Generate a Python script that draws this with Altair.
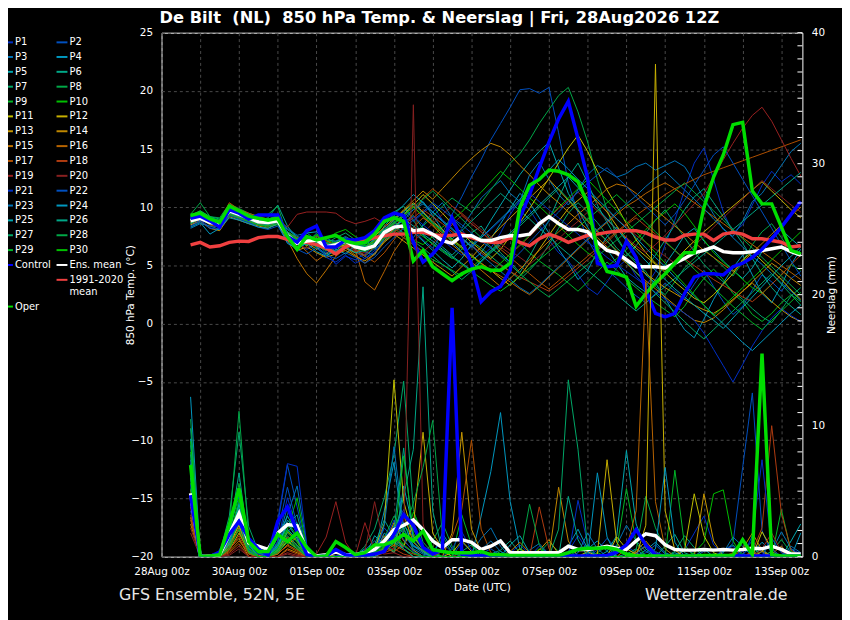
import altair as alt
import pandas as pd

TITLE = "De Bilt\u00a0\u00a0(NL)\u00a0\u00a0850 hPa Temp. & Neerslag | Fri, 28Aug2026 12Z"
FOOT_LEFT = "GFS Ensemble, 52N, 5E"
FOOT_RIGHT = "Wetterzentrale.de"
X_TITLE = "Date (UTC)"
Y_TITLE = "850 hPa Temp. (\u00b0C)"
Y2_TITLE = "Neerslag (mm)"
X_TICK_LABELS = ["28Aug 00z", "30Aug 00z", "01Sep 00z", "03Sep 00z", "05Sep 00z",
                 "07Sep 00z", "09Sep 00z", "11Sep 00z", "13Sep 00z"]

# forecast hours since 28Aug 00z (6-hourly)
HOURS = list(range(18, 397, 6))

# ---------------- thick lines: 850 hPa temperature ----------------
CONTROL_T = [9.05, 9.25, 8.84, 8.3, 9.8, 9.5, 9.0, 9.35, 9.35, 9.35, 7.5, 7.0, 8.0, 8.4, 6.6, 6.6, 7.2, 7.2,
             7.4, 8.0, 9.1, 9.5, 9.3, 7.0, 5.3, 6.0, 7.0, 9.1, 7.15, 5.15, 1.9, 2.75, 3.2, 4.6, 9.1, 11.1, 13.4, 15.6, 17.6, 19.1, 15.9,
             12.5, 5.2, 4.9, 5.0, 7.1, 5.7, 2.9, 0.9, 0.6, 0.9, 2.6, 4.0, 4.3, 4.3, 4.2, 4.9, 5.2, 5.7, 6.4, 7.3, 8.3, 9.4, 10.5]
ENSMEAN_T = [8.84, 9.05, 8.7, 8.6, 9.7, 9.4, 9.1, 8.75, 8.7, 8.84, 7.6, 6.9, 7.1, 7.2, 6.6, 6.8, 7.1, 6.6,
             6.43, 6.7, 7.85, 8.3, 8.4, 8.0, 8.1, 7.7, 7.15, 6.9, 7.56, 7.56, 7.15, 7.15, 7.4, 7.56, 7.56, 7.7, 8.6, 9.2, 8.6, 8.1, 8.1,
             7.9, 7.0, 6.3, 6.1, 5.5, 4.9, 4.9, 4.9, 4.8, 5.2, 5.6, 6.1, 6.3, 6.6, 6.2, 6.1, 6.1, 6.2, 6.3, 6.45, 6.6, 6.2, 5.9]
OPER_T = [9.3, 9.5, 9.0, 8.7, 10.1, 9.7, 9.25, 9.05, 8.9, 9.05, 7.5, 6.4, 7.5, 7.2, 7.4, 7.6, 7.1, 6.9,
          7.0, 7.7, 8.8, 9.1, 8.8, 5.4, 6.3, 4.9, 4.3, 3.7, 4.3, 4.7, 4.9, 4.6, 4.6, 5.2, 10.0, 11.9, 12.4, 13.2, 13.1, 12.8, 12.2,
          10.3, 6.3, 4.5, 4.3, 4.0, 1.5, 2.6, 3.5, 4.3, 5.2, 6.1, 6.1, 10.0, 12.6, 14.5, 17.1, 17.3, 11.4, 10.3, 10.3, 8.3, 6.3, 6.0]
CLIM_T = [6.78, 6.99, 6.6, 6.7, 6.99, 7.1, 7.07, 7.4, 7.5, 7.5, 7.25, 7.0, 7.0, 6.8, 6.5, 6.0, 6.6, 7.0,
          7.15, 7.4, 7.56, 7.7, 7.7, 7.85, 7.85, 7.65, 7.56, 7.6, 7.7, 7.4, 7.15, 7.0, 7.0, 7.4, 7.0, 6.7, 7.3, 7.7, 7.4, 7.0, 7.3,
          7.6, 7.7, 7.85, 7.95, 8.0, 8.0, 7.8, 7.45, 7.2, 7.2, 7.6, 7.7, 7.7, 7.15, 7.7, 7.85, 7.7, 7.3, 7.3, 7.15, 7.0, 6.6, 6.7]

# ---------------- thick lines: precipitation ----------------
CONTROL_R = [4.7, 0.0, 0.0, 0.35, 1.7, 2.7, 1.4, 0.6, 0.1, 2.7, 3.8, 1.9, 0.15, 0.0, 0.05, 0.55, 0.15, 0.05,
             0.1, 0.2, 0.4, 1.7, 3.2, 2.4, 0.7, 0.2, 0.5, 19.0, 0.2, 0.1, 0.05, 0.1, 0.1, 0.05, 0.05, 0.05, 0.05, 0.05, 0.05, 0.05, 0.05,
             0.05, 0.05, 0.1, 0.35, 0.9, 2.06, 0.9, 0.15, 0.05, 0.05, 0.05, 0.05, 0.05, 0.05, 0.05, 0.05, 0.05, 0.05, 0.05, 0.05, 0.05, 0.05, 0.05]
ENSMEAN_R = [4.84, 0.0, 0.05, 0.15, 1.7, 3.3, 1.05, 0.8, 0.55, 1.8, 2.45, 2.35, 0.4, 0.05, 0.15, 0.35, 0.15, 0.15,
             0.3, 0.55, 1.2, 2.06, 2.4, 2.8, 2.06, 1.2, 0.7, 1.3, 1.3, 1.1, 0.55, 0.8, 1.2, 0.3, 0.3, 0.3, 0.3, 0.3, 0.3, 0.8, 0.55,
             0.55, 0.65, 0.8, 0.65, 0.55, 1.2, 1.74, 1.6, 0.9, 0.55, 0.5, 0.5, 0.55, 0.5, 0.55, 0.5, 0.55, 0.65, 0.6, 0.8, 0.55, 0.2, 0.2]
OPER_R = [7.0, 0.0, 0.05, 0.15, 2.45, 5.2, 1.15, 0.4, 0.4, 1.7, 1.15, 1.8, 0.7, 0.0, 0.05, 1.15, 0.7, 0.15,
          0.3, 0.9, 0.9, 1.2, 1.7, 1.2, 1.95, 0.55, 0.4, 0.3, 0.3, 0.3, 0.4, 0.15, 0.15, 0.1, 0.1, 0.1, 0.1, 0.1, 0.1, 0.3, 0.55,
          0.65, 0.65, 0.7, 0.55, 0.2, 0.05, 0.05, 0.05, 0.05, 0.05, 0.05, 0.05, 0.1, 0.1, 0.1, 0.1, 1.3, 0.15, 15.5, 0.15, 0.05, 0.05, 0.05]

# ---------------- ensemble members: 850 hPa temperature ----------------
T_P1 = [8.5, 8.9, 8.3, 8.4, 9.6, 9.2, 9.0, 8.6, 8.5, 9.1, 7.8, 6.5, 6.9, 7.8, 6.2, 5.1,
        5.8, 5.5, 6.0, 6.8, 8.2, 9.1, 9.6, 8.8, 9.5, 10.2, 8.9, 7.6, 8.1, 6.9, 5.8, 6.5,
        7.8, 9.4, 10.6, 9.8, 8.5, 7.2, 6.1, 5.4, 4.2, 3.1, 2.5, 3.6, 4.8, 5.5, 4.1, 3.2,
        4.5, 6.8, 8.9, 11.5, 13.8, 15.1, 12.4, 9.6, 7.8, 8.5, 10.2, 11.9, 13.1, 12.2, 12.8, 12.0]
T_P2 = [9.1, 9.3, 8.9, 8.5, 9.9, 9.6, 9.3, 9.0, 8.9, 9.2, 7.3, 6.8, 6.4, 6.9, 6.1, 6.5,
        7.4, 6.2, 5.6, 6.1, 7.5, 8.4, 9.0, 8.1, 7.2, 6.5, 7.8, 9.4, 10.9, 12.6, 14.1, 15.8,
        17.2, 18.6, 20.1, 20.2, 19.8, 20.3, 16.4, 12.1, 9.5, 7.2, 5.8, 4.6, 3.9, 3.1, 2.4, 1.8,
        2.6, 3.5, 2.8, 2.1, 3.4, 4.6, 3.2, 1.9, 0.8, 1.5, 2.9, 4.2, 3.6, 2.8, 3.9, 4.5]
T_P3 = [8.2, 8.6, 8.4, 8.1, 9.4, 9.1, 8.7, 8.5, 8.6, 8.7, 7.9, 7.2, 7.5, 6.8, 7.4, 6.9,
        6.5, 6.8, 6.2, 5.9, 7.3, 8.8, 8.1, 7.4, 8.5, 9.6, 10.4, 9.1, 8.2, 9.5, 10.8, 11.6,
        12.3, 11.2, 10.5, 12.8, 13.9, 12.4, 11.1, 10.2, 11.5, 12.8, 13.6, 13.1, 12.6, 12.9, 13.5, 13.8,
        13.2, 13.6, 14.0, 13.5, 12.2, 10.8, 9.4, 8.1, 7.5, 8.8, 10.5, 11.2, 12.4, 13.6, 14.8, 15.5]
T_P4 = [9.0, 9.4, 9.1, 8.8, 9.8, 9.5, 9.2, 8.9, 8.8, 8.9, 8.1, 7.5, 7.2, 6.6, 6.0, 6.3,
        6.9, 6.4, 5.8, 6.5, 7.6, 8.3, 8.9, 9.8, 10.5, 9.3, 8.1, 7.0, 6.2, 5.4, 6.1, 7.3,
        8.6, 9.9, 11.2, 10.4, 9.1, 7.8, 6.4, 5.2, 3.8, 4.6, 6.2, 7.5, 8.3, 7.1, 5.6, 4.2,
        3.5, 2.2, 0.8, -0.5, -1.2, 0.4, 2.1, 3.5, 4.8, 5.9, 4.2, 2.6, 1.8, 3.3, 5.1, 6.4]
T_P5 = [8.7, 9.2, 8.8, 8.7, 9.5, 9.3, 9.0, 8.7, 8.4, 8.6, 7.4, 6.9, 7.8, 7.9, 7.2, 7.1,
        7.3, 7.0, 6.7, 6.9, 8.4, 9.3, 8.6, 7.9, 7.1, 6.3, 5.5, 4.8, 5.6, 6.8, 7.5, 8.9,
        10.2, 11.5, 12.8, 13.9, 14.8, 15.6, 13.4, 11.2, 9.8, 8.3, 7.1, 6.4, 5.2, 4.0, 3.3, 2.7,
        3.8, 5.1, 6.3, 7.6, 8.2, 7.1, 6.3, 5.4, 4.6, 3.9, 4.8, 6.2, 7.5, 8.1, 7.3, 6.6]
T_P6 = [8.9, 9.1, 8.6, 8.8, 9.9, 9.5, 9.3, 8.9, 9.1, 10.2, 8.4, 7.3, 6.8, 7.4, 6.8, 6.2,
        6.6, 6.9, 7.3, 6.4, 7.1, 7.8, 8.7, 9.3, 8.2, 7.4, 6.6, 5.9, 6.7, 7.8, 8.4, 7.2,
        6.1, 5.3, 4.4, 5.8, 7.3, 8.9, 10.8, 12.6, 13.8, 12.1, 10.2, 8.7, 7.3, 6.1, 5.4, 4.8,
        5.9, 7.2, 8.5, 9.8, 10.9, 11.6, 10.4, 9.2, 8.1, 6.9, 5.6, 4.3, 3.1, 2.2, 1.5, 0.8]
T_P7 = [9.2, 9.6, 9.0, 8.7, 10.1, 9.7, 9.4, 9.1, 8.9, 9.3, 7.2, 6.6, 6.9, 7.6, 6.9, 7.4,
        7.8, 7.2, 6.8, 7.4, 8.9, 9.6, 10.1, 8.9, 7.6, 6.8, 6.2, 5.6, 6.4, 7.1, 6.5, 5.8,
        5.1, 4.5, 3.8, 4.6, 5.5, 6.8, 8.2, 9.5, 10.4, 9.6, 8.7, 7.6, 6.5, 5.8, 6.7, 7.8,
        8.9, 9.8, 8.6, 7.4, 6.2, 5.1, 4.3, 3.6, 2.8, 2.1, 1.3, 0.6, 0.1, 1.2, 2.4, 3.1]
T_P8 = [9.4, 10.4, 9.2, 9.1, 10.3, 9.9, 9.5, 9.2, 9.4, 10.1, 7.5, 7.1, 7.4, 6.5, 5.9, 6.2,
        6.8, 6.6, 7.1, 7.6, 8.1, 8.7, 8.3, 7.8, 8.4, 9.2, 10.1, 10.8, 10.2, 9.6, 10.4, 11.5,
        12.6, 13.8, 14.6, 15.8, 17.2, 18.4, 19.6, 20.3, 18.2, 15.6, 12.4, 9.8, 7.5, 6.1, 5.2, 4.5,
        3.2, 2.5, 3.6, 4.8, 5.6, 6.4, 5.7, 4.9, 4.1, 5.3, 6.8, 7.9, 8.6, 7.4, 6.2, 5.8]
T_P9 = [8.6, 9.0, 8.5, 8.3, 9.3, 9.0, 8.8, 8.5, 8.3, 8.5, 7.7, 7.3, 7.6, 7.0, 6.4, 6.7,
        7.0, 6.6, 6.3, 6.9, 7.7, 8.0, 7.4, 6.8, 6.2, 5.5, 5.1, 4.6, 4.1, 4.8, 5.6, 6.3,
        7.1, 7.8, 6.9, 6.1, 5.4, 4.8, 4.2, 3.5, 2.8, 3.6, 4.5, 5.3, 4.6, 3.8, 3.1, 2.4,
        1.8, 1.2, 0.6, 1.5, 2.8, 3.9, 4.7, 3.8, 2.6, 1.9, 0.8, 0.2, 0.9, 1.8, 2.5, 1.9]
T_P10 = [9.3, 9.7, 9.2, 8.8, 9.9, 9.6, 9.2, 8.9, 8.8, 9.0, 7.9, 7.4, 7.1, 7.7, 7.3, 7.8,
         8.1, 7.5, 7.0, 6.7, 7.4, 8.1, 7.7, 7.2, 6.8, 7.5, 8.3, 8.9, 9.6, 10.5, 11.3, 12.2,
         13.1, 12.4, 11.6, 10.8, 10.1, 9.3, 8.4, 7.6, 6.8, 6.1, 5.5, 4.9, 5.6, 6.4, 7.2, 8.1,
         8.9, 9.6, 10.3, 9.5, 8.4, 7.2, 6.1, 5.3, 4.6, 3.8, 3.1, 2.6, 3.4, 4.2, 5.1, 4.6]
T_P11 = [8.8, 9.4, 8.9, 8.6, 10.2, 9.8, 9.4, 9.0, 8.9, 9.2, 7.6, 7.2, 6.7, 7.3, 6.8, 7.0,
         6.5, 6.1, 6.6, 7.2, 7.9, 8.6, 9.4, 10.2, 11.1, 10.3, 9.5, 8.6, 7.8, 7.0, 6.3, 5.6,
         6.4, 7.5, 8.7, 9.9, 11.2, 12.5, 13.8, 15.1, 16.2, 14.8, 13.1, 11.5, 10.1, 8.6, 7.2, 6.1,
         5.2, 4.4, 3.6, 2.9, 2.2, 1.8, 2.5, 3.4, 4.3, 5.5, 6.2, 5.4, 4.6, 3.8, 2.9, 2.1]
T_P12 = [9.0, 9.2, 8.7, 8.9, 9.6, 9.3, 9.0, 8.7, 8.6, 8.8, 7.5, 6.6, 7.0, 6.4, 6.9, 6.5,
         6.8, 7.1, 6.9, 7.5, 8.3, 9.0, 9.7, 10.4, 9.6, 8.8, 8.1, 7.3, 6.6, 5.9, 5.2, 4.6,
         3.9, 3.3, 4.1, 5.2, 6.4, 7.6, 8.8, 9.9, 10.6, 11.3, 10.5, 9.6, 8.4, 7.3, 6.5, 5.8,
         5.1, 4.6, 5.4, 6.3, 7.1, 7.9, 8.6, 9.4, 10.1, 10.8, 11.5, 12.2, 11.4, 10.6, 9.8, 9.1]
T_P13 = [8.5, 8.8, 8.2, 8.0, 9.2, 8.9, 8.6, 8.4, 8.2, 8.6, 7.1, 6.3, 6.6, 6.1, 5.7, 6.0,
         6.3, 5.8, 5.4, 6.0, 7.0, 7.7, 7.1, 6.5, 5.9, 5.3, 4.7, 4.1, 4.9, 5.7, 6.6, 7.4,
         8.3, 9.1, 9.9, 10.8, 11.6, 12.4, 11.5, 10.6, 9.7, 8.8, 7.9, 7.1, 6.3, 5.6, 4.9, 4.3,
         3.7, 3.1, 2.6, 2.1, 1.6, 1.2, 0.9, 1.4, 2.1, 2.8, 3.5, 2.7, 1.9, 1.2, 0.6, 0.2]
T_P14 = [9.1, 9.5, 9.0, 8.6, 9.8, 9.6, 9.2, 9.0, 8.8, 9.0, 7.7, 7.0, 7.3, 6.8, 7.2, 6.6,
         7.0, 6.8, 6.5, 7.1, 8.0, 8.9, 9.8, 10.6, 11.4, 10.7, 11.6, 12.5, 13.4, 14.2, 14.9, 15.5,
         15.2, 14.5, 13.6, 12.8, 11.9, 11.1, 10.4, 9.6, 8.9, 8.1, 7.4, 6.6, 5.9, 5.2, 4.4, 3.7,
         3.0, 2.3, 1.6, 0.9, 0.3, 0.1, 0.5, 1.2, 2.0, 2.8, 3.6, 4.4, 5.2, 4.6, 3.9, 3.3]
T_P15 = [8.9, 9.2, 8.8, 8.5, 10.0, 9.6, 9.3, 8.9, 8.7, 8.9, 7.2, 5.6, 4.3, 3.5, 4.6, 5.8,
         6.5, 5.9, 5.2, 6.0, 7.1, 8.2, 9.3, 10.1, 9.2, 8.4, 7.6, 6.8, 6.1, 5.3, 4.6, 3.9,
         3.2, 3.9, 4.7, 5.5, 6.3, 7.1, 7.9, 8.6, 9.4, 10.1, 10.8, 11.6, 12.0, 11.8, 11.2, 10.5,
         9.8, 9.1, 8.4, 7.7, 7.0, 6.3, 5.7, 5.1, 4.5, 5.3, 6.1, 6.9, 7.7, 8.5, 9.3, 10.0]
T_P16 = [8.6, 9.0, 8.6, 8.4, 9.4, 9.1, 8.8, 8.6, 8.4, 8.7, 7.6, 7.0, 6.2, 5.4, 6.0, 6.8,
         7.3, 6.4, 3.6, 2.9, 4.5, 6.2, 7.4, 8.3, 9.1, 8.5, 7.8, 7.1, 6.5, 5.8, 5.2, 4.6,
         4.1, 3.6, 3.0, 2.5, 3.2, 4.0, 4.8, 5.6, 6.4, 7.2, 8.0, 8.7, 9.4, 10.1, 10.6, 11.2,
         11.7, 12.1, 11.6, 11.0, 10.4, 9.8, 9.2, 8.6, 8.0, 7.4, 6.8, 6.2, 5.6, 5.0, 4.4, 3.8]
T_P17 = [9.2, 9.4, 9.0, 8.8, 10.4, 9.8, 9.5, 9.2, 9.0, 9.2, 7.8, 7.4, 7.0, 7.5, 7.1, 6.8,
         6.5, 6.2, 5.8, 5.3, 6.1, 7.2, 8.4, 9.5, 10.8, 11.6, 10.9, 10.1, 9.4, 8.6, 7.9, 7.1,
         6.4, 5.7, 5.0, 4.3, 3.6, 3.0, 3.7, 4.4, 5.1, 5.8, 6.5, 7.2, 7.9, 8.6, 9.3, 9.9,
         10.5, 11.1, 11.6, 12.0, 12.4, 12.8, 13.1, 13.4, 13.7, 14.0, 14.3, 14.6, 14.9, 15.2, 15.5, 15.8]
T_P18 = [8.7, 9.1, 8.5, 8.3, 9.5, 9.2, 8.9, 8.6, 8.5, 8.8, 7.3, 6.9, 7.4, 6.7, 6.3, 6.6,
         6.9, 6.4, 5.9, 6.6, 7.3, 7.9, 8.5, 9.1, 9.8, 9.2, 8.6, 7.9, 7.3, 6.7, 6.1, 5.5,
         5.0, 4.5, 4.0, 3.6, 3.2, 2.8, 3.4, 4.1, 4.8, 5.5, 6.3, 7.0, 7.8, 8.5, 9.1, 8.4,
         7.7, 7.0, 6.3, 5.6, 5.0, 4.4, 3.8, 3.3, 2.8, 2.3, 1.9, 2.6, 3.4, 4.2, 5.1, 5.9]
T_P19 = [9.0, 9.3, 8.9, 8.8, 9.8, 9.5, 9.2, 8.9, 8.8, 8.9, 8.3, 9.4, 9.6, 9.6, 9.6, 9.5,
         8.9, 8.6, 8.8, 9.1, 8.6, 8.0, 7.4, 6.8, 6.2, 6.9, 7.7, 8.5, 9.3, 8.6, 7.9, 7.2,
         6.6, 6.0, 6.7, 7.5, 8.3, 9.1, 9.9, 10.6, 11.3, 10.5, 9.7, 8.9, 8.1, 7.4, 6.7, 6.1,
         6.8, 7.6, 8.5, 9.4, 10.3, 11.2, 12.6, 14.1, 15.5, 16.8, 17.9, 18.6, 17.4, 15.8, 14.2, 12.7]
T_P20 = [8.8, 9.0, 8.6, 8.5, 9.7, 9.3, 9.0, 8.7, 8.6, 8.9, 7.4, 6.8, 6.5, 7.1, 6.6, 6.2,
         6.7, 6.3, 6.1, 6.8, 7.5, 8.2, 7.7, 7.1, 7.8, 8.6, 9.4, 10.1, 9.5, 8.8, 8.1, 7.5,
         6.9, 6.3, 5.7, 5.1, 5.8, 6.6, 7.3, 8.1, 8.8, 9.6, 10.4, 9.7, 9.0, 8.3, 7.6, 7.0,
         6.4, 5.8, 5.2, 5.9, 6.7, 7.5, 8.3, 9.1, 9.9, 10.7, 11.5, 12.3, 11.6, 10.9, 10.2, 9.6]
T_P21 = [8.9, 9.3, 8.8, 8.6, 9.6, 9.4, 9.1, 8.8, 8.7, 9.0, 7.5, 7.1, 7.3, 6.8, 5.7, 5.3,
         5.9, 5.2, 5.6, 6.3, 7.3, 8.0, 8.6, 9.2, 8.5, 7.8, 7.2, 6.5, 5.9, 6.6, 7.4, 8.1,
         8.9, 9.7, 10.4, 11.2, 10.5, 9.8, 9.1, 8.4, 7.7, 7.0, 6.4, 5.7, 5.1, 4.5, 3.9, 3.3,
         2.7, 2.1, 1.5, 0.9, 0.3, -0.8, -2.2, -3.6, -5.0, -3.5, -1.9, -0.6, 0.5, 1.3, 0.7, 0.2]
T_P22 = [8.4, 8.8, 8.2, 8.1, 9.3, 9.0, 8.7, 8.3, 8.1, 8.4, 7.0, 6.4, 6.0, 6.5, 5.9, 5.6,
         6.1, 5.7, 5.2, 5.7, 6.6, 7.4, 8.2, 8.9, 9.6, 10.4, 9.8, 9.1, 8.5, 7.8, 7.1, 6.5,
         5.9, 5.3, 6.1, 7.0, 7.9, 8.8, 9.6, 10.5, 11.3, 12.1, 12.8, 13.4, 12.6, 11.8, 10.9, 10.1,
         9.3, 8.5, 9.4, 10.6, 11.9, 13.2, 14.5, 15.2, 13.8, 12.4, 11.0, 9.6, 8.2, 6.8, 5.4, 4.1]
T_P23 = [9.1, 9.5, 9.1, 8.9, 9.9, 9.7, 9.4, 9.0, 8.9, 9.1, 8.2, 7.6, 7.8, 7.2, 6.7, 7.1,
         7.5, 7.0, 6.6, 7.2, 8.0, 8.6, 9.2, 9.8, 10.3, 9.6, 8.9, 8.2, 7.4, 6.7, 5.9, 5.2,
         4.5, 3.8, 3.1, 2.6, 3.3, 4.1, 4.9, 5.7, 6.5, 7.3, 8.1, 8.8, 9.6, 10.3, 11.0, 11.8,
         12.5, 13.1, 12.3, 11.5, 10.7, 9.9, 9.0, 8.2, 7.4, 6.6, 5.8, 5.1, 4.3, 3.5, 2.8, 2.0]
T_P24 = [8.3, 8.7, 7.7, 8.2, 9.1, 8.9, 8.6, 8.3, 8.2, 8.6, 6.9, 6.5, 6.9, 6.2, 5.8, 6.4,
         6.0, 6.7, 7.3, 7.9, 8.6, 9.4, 10.2, 11.1, 10.4, 9.6, 8.8, 8.1, 7.3, 6.6, 7.4, 8.2,
         9.0, 9.8, 10.7, 11.5, 12.4, 13.2, 14.1, 13.3, 12.4, 11.6, 10.7, 9.9, 9.0, 8.2, 7.4, 6.5,
         5.7, 4.9, 4.0, 3.2, 2.4, 1.6, 0.8, 0.0, -0.8, -1.6, -2.3, -1.5, -0.7, 0.1, 0.9, 1.6]
T_P25 = [9.0, 9.4, 8.9, 8.7, 9.7, 9.4, 9.1, 8.9, 8.7, 9.0, 7.7, 7.2, 7.5, 6.9, 6.5, 6.2,
         6.6, 6.1, 6.3, 6.8, 7.6, 8.3, 9.0, 8.4, 7.7, 7.1, 6.4, 5.8, 5.2, 4.6, 5.4, 6.2,
         7.0, 7.8, 8.6, 9.4, 10.2, 11.0, 11.8, 12.6, 11.7, 10.8, 9.9, 9.0, 8.1, 7.2, 6.3, 5.4,
         4.6, 3.8, 3.0, 2.3, 1.6, 0.9, 0.3, -0.4, 0.5, 1.4, 2.3, 3.2, 4.1, 5.0, 5.8, 6.6]
T_P26 = [8.6, 9.1, 8.7, 8.5, 9.5, 9.2, 8.9, 8.6, 8.5, 8.7, 7.5, 7.0, 6.8, 7.3, 7.0, 6.5,
         7.1, 6.8, 6.6, 7.3, 8.1, 8.9, 9.6, 10.3, 9.5, 8.7, 8.0, 7.3, 8.0, 8.8, 9.6, 10.4,
         11.2, 10.5, 9.7, 9.0, 8.2, 7.5, 6.7, 6.0, 5.3, 4.6, 3.9, 3.2, 2.5, 1.8, 1.1, 1.8,
         2.5, 3.2, 3.9, 4.6, 5.3, 6.0, 6.7, 7.4, 8.1, 8.8, 9.5, 10.2, 10.9, 11.6, 12.3, 13.0]
T_P27 = [9.3, 9.7, 9.2, 9.0, 10.0, 9.6, 9.3, 9.1, 9.0, 9.3, 7.9, 7.3, 7.6, 7.0, 6.6, 7.0,
         7.4, 6.9, 6.5, 7.0, 7.7, 8.4, 7.8, 7.1, 6.5, 5.8, 5.1, 4.5, 3.8, 4.5, 5.3, 6.1,
         6.8, 7.6, 8.4, 9.2, 10.0, 10.8, 11.6, 10.7, 9.8, 8.9, 8.0, 7.1, 6.2, 5.3, 4.4, 3.5,
         2.6, 1.8, 1.0, 0.2, -0.6, -1.3, -0.5, 0.3, 1.1, 1.9, 2.7, 3.5, 4.3, 3.4, 2.5, 1.6]
T_P28 = [8.9, 9.2, 8.8, 8.6, 9.6, 9.3, 9.1, 8.8, 8.6, 8.9, 7.4, 6.9, 7.2, 6.6, 7.0, 6.7,
         7.2, 6.6, 6.9, 7.4, 8.0, 8.7, 9.4, 10.0, 10.7, 11.4, 10.6, 9.8, 9.0, 8.2, 7.4, 6.6,
         5.8, 5.1, 4.3, 3.6, 2.9, 2.3, 3.0, 3.7, 4.4, 5.1, 5.8, 6.5, 7.2, 7.9, 8.6, 9.3,
         10.0, 10.7, 11.4, 12.1, 11.3, 10.5, 9.7, 8.9, 8.1, 7.3, 6.5, 5.7, 4.9, 4.1, 3.3, 2.5]
T_P29 = [8.7, 9.0, 8.6, 8.4, 9.4, 9.1, 8.8, 8.5, 8.4, 8.6, 7.6, 7.1, 7.3, 6.7, 6.3, 6.6,
         6.9, 6.5, 6.2, 6.6, 7.3, 8.0, 8.7, 8.1, 7.5, 6.9, 6.3, 5.7, 5.1, 4.5, 3.9, 3.3,
         2.8, 3.4, 4.1, 4.8, 5.5, 6.2, 6.9, 7.6, 8.3, 9.0, 9.7, 10.4, 11.1, 10.3, 9.5, 8.7,
         7.9, 7.1, 6.3, 5.5, 4.7, 3.9, 3.1, 2.3, 1.5, 0.8, 0.1, -0.5, 0.3, 1.1, 1.9, 2.7]
T_P30 = [9.2, 9.5, 9.0, 8.9, 9.8, 9.5, 9.2, 9.0, 8.9, 9.1, 7.8, 7.2, 7.0, 7.6, 7.2, 6.9,
         7.3, 7.0, 6.7, 7.1, 7.9, 8.6, 9.3, 10.0, 9.3, 8.6, 7.9, 7.2, 6.5, 5.8, 5.1, 4.4,
         5.2, 6.0, 6.8, 7.6, 8.4, 9.2, 10.0, 10.8, 11.6, 12.4, 11.5, 10.6, 9.7, 8.8, 7.9, 7.0,
         6.1, 5.2, 4.3, 3.4, 2.5, 1.6, 0.7, 1.5, 2.3, 3.1, 3.9, 4.7, 5.5, 6.3, 7.1, 7.9]

# ---------------- ensemble members: precipitation (mm / 6h) ----------------
R_P1 = [3.5, 0.0, 0.0, 0.2, 1.5, 2.8, 0.6, 0.2, 0.0, 1.2, 4.5, 2.1, 0.3, 0.0, 0.0, 0.1,
        0.0, 0.0, 0.2, 0.8, 1.5, 2.2, 3.6, 1.4, 0.6, 0.2, 0.0, 0.0, 1.1, 0.4, 0.0, 0.0,
        0.0, 0.3, 0.9, 0.2, 0.0, 0.0, 0.0, 0.4, 1.6, 0.5, 0.0, 0.0, 0.2, 0.8, 0.3, 0.0,
        0.0, 0.0, 0.1, 0.5, 1.8, 3.1, 0.9, 0.2, 0.0, 0.4, 1.2, 0.3, 0.0, 0.0, 0.6, 0.2]
R_P2 = [6.2, 0.1, 0.0, 0.0, 0.8, 3.5, 1.2, 0.3, 0.1, 2.5, 7.0, 3.8, 0.5, 0.0, 0.0, 0.0,
        0.2, 0.0, 0.0, 0.4, 2.2, 1.3, 0.8, 2.7, 1.9, 0.4, 0.0, 0.0, 0.0, 0.0, 0.2, 0.6,
        0.1, 0.0, 0.0, 0.0, 0.3, 0.0, 0.0, 0.0, 0.0, 0.0, 0.5, 1.4, 0.6, 0.0, 0.0, 0.3,
        0.9, 0.2, 0.0, 0.0, 0.0, 0.4, 0.6, 0.4, 1.0, 6.8, 12.5, 2.0, 0.2, 0.0, 0.0, 0.0]
R_P3 = [8.5, 0.2, 0.0, 0.0, 1.2, 4.2, 0.9, 0.0, 0.0, 0.8, 3.2, 5.4, 0.8, 0.1, 0.0, 0.0,
        0.0, 0.0, 0.5, 1.2, 0.6, 2.4, 1.8, 0.9, 0.4, 0.0, 0.0, 0.0, 0.0, 0.3, 1.4, 2.2,
        0.8, 0.0, 0.0, 0.5, 1.0, 0.2, 0.0, 0.0, 0.0, 0.3, 0.0, 0.0, 0.9, 2.4, 1.2, 0.4,
        0.0, 0.0, 0.0, 0.6, 0.2, 0.0, 0.0, 0.3, 1.5, 0.8, 0.0, 0.0, 0.4, 1.9, 0.6, 0.0]
R_P4 = [12.2, 0.0, 0.0, 0.3, 2.4, 5.1, 1.4, 0.6, 0.2, 0.4, 2.1, 1.3, 0.0, 0.0, 0.2, 0.0,
        0.0, 0.1, 0.6, 0.3, 3.5, 7.2, 1.6, 0.8, 0.5, 0.0, 1.8, 0.6, 0.0, 0.0, 3.1, 6.5,
        11.0, 4.2, 0.6, 0.0, 0.0, 0.0, 0.2, 0.8, 2.1, 0.6, 1.2, 0.4, 0.0, 0.0, 0.0, 0.5,
        1.1, 0.3, 0.0, 0.0, 0.0, 0.0, 0.2, 0.0, 0.0, 0.0, 0.3, 1.1, 0.4, 0.0, 0.0, 1.8]
R_P5 = [4.8, 0.0, 0.0, 0.0, 1.0, 2.5, 0.4, 0.0, 0.0, 1.5, 3.1, 1.8, 0.2, 0.0, 0.0, 0.0,
        0.1, 0.0, 0.0, 1.6, 0.9, 0.3, 5.4, 2.1, 0.8, 0.2, 0.0, 0.0, 0.0, 0.4, 0.0, 0.0,
        0.0, 0.9, 1.6, 0.3, 0.0, 0.0, 0.0, 0.0, 0.0, 0.0, 0.0, 0.4, 1.6, 8.1, 2.5, 0.6,
        0.0, 0.0, 0.3, 0.0, 0.0, 0.6, 0.0, 0.0, 0.0, 0.2, 0.8, 0.0, 0.0, 0.0, 1.2, 2.5]
R_P6 = [9.8, 0.1, 0.0, 0.0, 1.8, 6.4, 0.8, 0.2, 0.0, 0.6, 2.4, 3.2, 0.4, 0.0, 0.0, 0.0,
        0.0, 0.0, 0.3, 0.9, 2.8, 1.5, 4.6, 8.2, 20.6, 3.5, 0.4, 0.0, 0.0, 0.0, 0.0, 0.2,
        0.5, 1.2, 0.3, 0.0, 0.0, 0.0, 0.0, 0.0, 0.0, 0.0, 0.0, 0.0, 0.0, 0.2, 0.6, 0.0,
        0.0, 0.8, 1.7, 0.3, 0.0, 0.0, 0.0, 0.4, 0.9, 0.2, 0.0, 0.0, 0.0, 0.0, 0.0, 0.0]
R_P7 = [7.1, 0.0, 0.0, 0.2, 3.1, 9.5, 2.3, 0.4, 0.1, 0.5, 1.4, 0.8, 0.0, 0.0, 0.0, 0.0,
        0.0, 0.0, 0.8, 2.1, 4.5, 7.8, 13.4, 3.6, 1.1, 0.3, 0.0, 0.0, 0.4, 0.9, 0.2, 0.0,
        0.0, 0.0, 0.0, 0.0, 0.0, 0.3, 0.0, 0.0, 0.5, 0.9, 0.0, 0.0, 0.0, 0.0, 0.0, 0.0,
        0.0, 0.0, 0.4, 1.6, 0.7, 0.0, 0.0, 0.0, 0.0, 0.0, 0.2, 0.6, 0.0, 0.0, 0.0, 0.0]
R_P8 = [10.5, 0.0, 0.0, 0.0, 2.2, 11.1, 1.5, 0.2, 0.0, 0.4, 1.8, 1.1, 0.0, 0.0, 0.0, 0.0,
        0.0, 0.0, 0.0, 0.6, 1.4, 3.1, 2.2, 0.5, 0.0, 1.2, 2.6, 0.8, 0.0, 0.0, 0.0, 0.0,
        0.4, 0.0, 0.0, 0.0, 0.3, 1.1, 0.4, 0.0, 0.0, 0.0, 0.3, 0.8, 0.0, 0.0, 0.5, 4.6,
        2.2, 0.6, 0.0, 0.0, 0.0, 0.0, 0.0, 0.0, 0.0, 0.0, 0.0, 0.0, 0.4, 1.3, 0.3, 0.0]
R_P9 = [8.0, 0.0, 0.0, 0.1, 1.6, 5.6, 1.0, 0.3, 0.0, 0.7, 2.6, 1.6, 0.3, 0.0, 0.0, 0.0,
        0.0, 0.2, 0.0, 0.5, 1.2, 0.7, 2.4, 1.5, 0.6, 0.0, 0.0, 0.0, 3.2, 0.9, 0.0, 0.0,
        0.0, 0.0, 0.6, 0.0, 0.0, 0.0, 0.0, 0.0, 0.0, 0.0, 0.0, 0.0, 0.6, 5.2, 1.1, 0.0,
        0.0, 0.0, 6.6, 0.9, 0.0, 0.0, 0.0, 0.0, 0.0, 0.0, 0.0, 0.0, 0.0, 3.6, 0.4, 0.0]
R_P10 = [5.6, 0.0, 0.0, 0.0, 0.6, 3.0, 0.5, 0.0, 0.0, 1.0, 2.1, 4.5, 0.6, 0.0, 0.0, 0.0,
         0.0, 0.0, 0.0, 0.3, 0.6, 1.9, 0.9, 3.4, 1.8, 0.4, 0.0, 0.0, 0.0, 0.0, 0.0, 0.2,
         0.0, 0.0, 0.0, 0.0, 0.6, 0.2, 0.0, 0.0, 0.0, 0.0, 0.3, 0.0, 0.0, 0.0, 0.0, 0.0,
         0.0, 0.0, 0.0, 0.0, 0.3, 1.1, 4.8, 5.1, 1.2, 0.0, 0.0, 0.0, 0.0, 0.0, 0.0, 0.0]
R_P11 = [6.8, 0.0, 0.0, 0.0, 0.9, 2.4, 0.3, 0.0, 0.0, 0.3, 1.2, 0.6, 0.0, 0.0, 0.0, 0.0,
         0.0, 0.0, 0.2, 0.6, 2.5, 13.5, 4.2, 1.6, 0.5, 0.0, 0.0, 0.3, 1.2, 0.4, 0.0, 0.0,
         0.0, 0.0, 0.6, 0.2, 0.0, 0.0, 0.0, 0.0, 0.0, 0.4, 0.0, 0.0, 1.5, 0.6, 0.2, 0.0,
         0.0, 0.0, 0.0, 0.5, 4.8, 1.6, 0.3, 0.0, 0.0, 0.0, 0.0, 1.9, 0.6, 0.0, 0.0, 0.0]
R_P12 = [4.2, 0.0, 0.0, 0.0, 0.5, 1.8, 0.4, 0.0, 0.0, 0.5, 1.9, 1.2, 0.0, 0.0, 0.0, 0.0,
         0.0, 0.0, 0.0, 0.2, 0.6, 1.5, 0.8, 2.4, 9.5, 1.8, 0.6, 0.0, 0.0, 0.0, 0.0, 0.0,
         0.0, 0.0, 0.3, 0.0, 0.0, 0.0, 0.0, 0.0, 0.0, 0.0, 0.2, 7.4, 1.1, 0.0, 0.0, 2.4,
         37.6, 3.5, 0.5, 0.0, 0.0, 0.0, 0.0, 0.0, 0.0, 0.0, 0.0, 0.4, 0.0, 0.0, 0.0, 0.0]
R_P13 = [3.0, 0.0, 0.0, 0.0, 1.1, 2.0, 0.2, 0.0, 0.0, 0.2, 0.9, 1.5, 0.2, 0.0, 0.0, 0.0,
         0.0, 0.0, 0.4, 0.0, 0.8, 2.6, 1.2, 0.5, 0.0, 0.0, 0.0, 1.8, 9.5, 2.1, 0.4, 0.0,
         0.0, 0.0, 0.0, 0.0, 0.5, 1.3, 0.2, 0.0, 0.0, 0.0, 0.0, 0.0, 0.0, 0.0, 0.3, 0.8,
         0.2, 0.0, 0.0, 0.0, 0.0, 4.8, 1.2, 0.0, 0.0, 0.0, 0.3, 0.0, 0.0, 0.0, 0.0, 0.0]
R_P14 = [2.5, 0.0, 0.0, 0.2, 0.6, 1.4, 0.0, 0.0, 0.0, 0.0, 0.6, 0.3, 0.0, 0.0, 0.2, 0.0,
         0.0, 0.0, 0.0, 0.4, 1.6, 0.8, 3.2, 1.1, 0.4, 0.0, 0.0, 0.0, 0.0, 0.0, 0.0, 0.0,
         0.0, 0.0, 0.0, 0.0, 0.0, 0.0, 5.3, 1.2, 0.0, 0.0, 0.0, 0.0, 0.0, 0.0, 0.4, 1.2,
         0.3, 0.0, 0.0, 0.0, 0.0, 0.0, 0.0, 0.0, 0.0, 0.6, 1.8, 0.5, 0.0, 0.0, 0.0, 0.0]
R_P15 = [5.1, 0.0, 0.0, 0.0, 0.7, 2.2, 0.6, 0.1, 0.0, 0.4, 1.5, 0.9, 0.0, 0.0, 0.0, 0.0,
         0.0, 0.0, 0.3, 0.8, 0.3, 1.8, 0.6, 0.0, 0.0, 0.0, 0.0, 0.0, 0.0, 0.0, 0.0, 0.0,
         0.0, 0.4, 1.1, 0.3, 0.0, 0.0, 0.0, 0.0, 0.0, 0.0, 0.0, 0.0, 0.0, 0.0, 0.0, 0.0,
         0.0, 0.0, 0.0, 0.0, 0.0, 0.0, 0.0, 0.0, 0.0, 0.0, 0.0, 0.0, 0.2, 0.8, 0.0, 0.0]
R_P16 = [3.8, 0.0, 0.0, 0.0, 0.4, 1.2, 0.3, 0.0, 0.0, 0.2, 0.9, 0.5, 0.0, 0.0, 0.0, 0.0,
         0.0, 0.0, 0.0, 0.2, 0.6, 0.4, 0.9, 0.3, 0.0, 0.0, 0.0, 0.0, 0.0, 0.0, 0.0, 0.0,
         0.0, 0.0, 0.0, 0.0, 0.0, 0.0, 0.0, 0.0, 0.0, 0.0, 0.0, 0.0, 0.0, 0.6, 3.5, 21.0,
         4.2, 0.6, 0.0, 0.0, 0.0, 0.0, 0.0, 0.0, 0.0, 0.0, 0.0, 0.0, 0.0, 0.0, 0.0, 0.0]
R_P17 = [2.8, 0.0, 0.0, 0.0, 0.3, 1.0, 0.0, 0.0, 0.0, 0.3, 0.8, 0.4, 0.0, 0.0, 0.0, 0.0,
         0.0, 0.0, 0.0, 0.0, 0.4, 0.9, 0.5, 0.2, 0.0, 0.0, 0.4, 1.5, 3.6, 8.9, 2.1, 0.3,
         0.0, 0.0, 0.0, 0.0, 0.0, 0.0, 0.0, 0.0, 0.0, 0.0, 0.0, 0.0, 0.0, 0.0, 0.0, 0.0,
         0.0, 0.0, 0.0, 0.0, 0.0, 0.0, 0.0, 0.0, 0.3, 1.2, 0.4, 0.0, 0.0, 0.0, 0.0, 0.0]
R_P18 = [3.2, 0.0, 0.0, 0.0, 0.5, 1.6, 0.2, 0.0, 0.0, 0.0, 0.5, 0.2, 0.0, 0.0, 0.0, 0.0,
         0.0, 0.0, 0.0, 0.0, 0.3, 0.6, 0.2, 0.0, 0.0, 0.0, 0.0, 0.0, 0.0, 0.0, 0.0, 0.0,
         0.0, 0.0, 0.0, 0.0, 3.8, 0.6, 0.0, 0.0, 0.0, 0.0, 0.0, 0.0, 0.0, 0.0, 0.0, 0.0,
         0.0, 0.0, 0.0, 0.0, 0.0, 0.0, 0.0, 0.0, 0.0, 0.0, 0.4, 2.2, 10.0, 3.3, 0.5, 0.0]
R_P19 = [2.2, 0.0, 0.0, 0.0, 0.2, 0.8, 0.0, 0.0, 0.0, 0.0, 0.3, 0.1, 0.0, 0.2, 1.5, 4.2,
         1.1, 0.0, 2.6, 0.4, 0.2, 0.3, 0.0, 0.0, 0.0, 0.0, 0.0, 0.0, 0.0, 0.0, 0.0, 0.0,
         0.0, 0.0, 0.0, 0.0, 0.0, 0.0, 0.0, 0.0, 0.0, 0.0, 0.0, 0.0, 0.0, 0.0, 0.0, 0.0,
         0.0, 0.0, 0.0, 0.0, 0.0, 0.0, 0.0, 0.0, 0.0, 0.0, 0.0, 0.6, 1.8, 0.4, 0.0, 0.0]
R_P20 = [1.8, 0.0, 0.0, 0.0, 0.1, 0.6, 0.0, 0.0, 0.0, 0.0, 0.2, 0.0, 0.0, 0.0, 0.0, 0.0,
         0.0, 0.0, 0.4, 4.2, 0.8, 0.6, 1.9, 34.5, 2.5, 0.0, 0.0, 0.0, 0.3, 0.0, 0.0, 0.0,
         0.0, 0.0, 0.0, 0.0, 0.0, 0.0, 0.0, 0.0, 0.0, 0.0, 0.0, 0.0, 0.0, 0.0, 0.0, 0.0,
         0.0, 0.0, 0.0, 0.0, 0.0, 0.0, 0.0, 0.0, 0.0, 0.0, 0.0, 0.0, 0.0, 0.0, 0.0, 0.0]
R_P21 = [5.5, 0.0, 0.0, 0.3, 1.9, 3.6, 0.8, 0.2, 0.0, 2.8, 7.1, 6.9, 0.9, 0.0, 0.0, 0.0,
         0.0, 0.3, 0.0, 0.6, 1.1, 2.8, 1.3, 0.4, 0.0, 0.0, 0.0, 0.6, 1.9, 0.5, 0.0, 0.0,
         0.0, 0.0, 0.0, 0.0, 0.8, 0.2, 0.0, 0.0, 4.3, 1.0, 0.0, 0.0, 0.0, 0.0, 0.0, 0.0,
         0.0, 0.0, 0.0, 0.0, 0.0, 0.0, 0.0, 0.5, 0.8, 0.0, 1.6, 7.4, 0.6, 0.0, 0.0, 0.0]
R_P22 = [4.0, 0.0, 0.0, 0.0, 1.3, 2.6, 0.5, 0.0, 0.0, 1.9, 5.3, 2.4, 0.2, 0.0, 0.0, 0.0,
         0.0, 0.0, 0.2, 0.4, 0.9, 1.6, 0.8, 0.3, 0.0, 0.5, 1.1, 0.3, 0.0, 0.0, 0.0, 0.0,
         0.0, 0.0, 0.0, 0.0, 0.0, 0.0, 0.0, 0.0, 0.0, 0.0, 0.0, 0.0, 0.0, 0.0, 0.2, 0.9,
         0.4, 0.0, 0.0, 0.0, 0.0, 0.0, 0.0, 0.0, 0.0, 0.0, 0.0, 0.0, 1.4, 0.3, 0.0, 0.0]
R_P23 = [7.4, 0.0, 0.0, 0.0, 2.1, 4.6, 1.1, 0.3, 0.0, 1.1, 3.8, 2.2, 0.0, 0.0, 0.0, 0.0,
         0.0, 0.0, 0.0, 0.3, 2.4, 8.4, 2.1, 0.6, 0.2, 0.0, 0.0, 0.0, 0.0, 0.0, 0.5, 1.2,
         0.4, 0.0, 0.0, 0.0, 0.0, 0.0, 0.0, 0.0, 0.3, 1.8, 0.6, 0.0, 0.0, 0.0, 0.0, 0.0,
         0.0, 0.0, 0.0, 0.0, 0.0, 0.0, 0.0, 0.0, 0.0, 0.0, 0.0, 0.0, 0.0, 0.0, 0.8, 0.3]
R_P24 = [6.0, 0.0, 0.0, 0.1, 1.0, 3.9, 0.7, 0.0, 0.0, 0.6, 2.8, 1.9, 0.2, 0.0, 0.0, 0.0,
         0.0, 0.0, 0.0, 0.2, 1.8, 1.2, 2.6, 0.8, 0.3, 0.0, 0.0, 0.0, 0.0, 0.2, 0.0, 0.0,
         0.0, 0.0, 0.0, 0.0, 0.0, 0.0, 0.0, 0.0, 0.0, 0.0, 6.4, 1.5, 0.0, 0.0, 0.0, 0.0,
         0.6, 6.8, 1.1, 0.0, 0.0, 0.0, 0.0, 0.0, 0.0, 0.0, 0.0, 0.0, 0.0, 0.0, 0.0, 0.0]
R_P25 = [9.0, 0.0, 0.0, 0.0, 1.4, 4.0, 0.9, 0.0, 0.0, 0.9, 2.5, 1.4, 0.0, 0.0, 0.0, 0.0,
         0.0, 0.0, 0.0, 0.0, 0.4, 1.1, 0.6, 0.0, 0.0, 0.0, 0.0, 0.0, 0.0, 0.0, 0.0, 0.0,
         0.0, 0.0, 0.0, 0.0, 0.0, 0.0, 0.0, 0.0, 0.0, 0.0, 0.0, 0.0, 0.0, 0.0, 0.0, 0.0,
         0.0, 0.0, 0.0, 0.0, 0.0, 0.0, 0.0, 0.0, 0.0, 0.0, 0.0, 0.0, 0.0, 0.0, 0.0, 0.0]
R_P26 = [6.5, 0.0, 0.0, 0.0, 1.7, 5.2, 1.0, 0.0, 0.0, 0.7, 1.9, 2.6, 0.3, 0.0, 0.0, 0.0,
         0.0, 0.0, 0.0, 0.5, 1.3, 2.0, 8.3, 1.2, 0.4, 0.0, 0.0, 0.0, 0.0, 0.0, 0.0, 0.0,
         0.0, 0.0, 0.0, 0.0, 0.0, 0.0, 0.0, 4.6, 1.3, 0.0, 0.0, 0.0, 0.0, 0.0, 0.0, 0.0,
         0.0, 0.0, 0.0, 0.0, 0.0, 0.0, 0.0, 0.0, 0.0, 0.0, 0.0, 0.0, 0.0, 0.0, 0.0, 0.0]
R_P27 = [7.8, 0.0, 0.0, 0.0, 1.2, 3.8, 0.6, 0.0, 0.0, 0.5, 1.6, 0.9, 0.0, 0.0, 0.0, 0.0,
         0.0, 0.0, 0.0, 0.0, 0.6, 1.4, 0.6, 0.0, 0.0, 0.0, 0.0, 0.0, 0.0, 0.0, 0.0, 0.0,
         0.0, 0.0, 0.0, 0.0, 0.0, 0.0, 2.1, 13.5, 8.2, 0.6, 0.0, 0.0, 0.0, 0.0, 0.0, 0.0,
         0.0, 0.0, 0.0, 0.0, 0.0, 0.0, 0.0, 0.0, 0.0, 0.0, 0.0, 0.0, 0.0, 0.0, 0.0, 0.0]
R_P28 = [5.2, 0.0, 0.0, 0.0, 0.8, 2.9, 0.4, 0.0, 0.0, 0.3, 1.1, 0.6, 0.0, 0.0, 0.0, 0.0,
         0.0, 0.0, 0.0, 0.4, 0.9, 0.4, 1.9, 4.1, 6.8, 10.4, 1.6, 0.3, 0.0, 0.0, 0.0, 0.0,
         0.0, 0.0, 0.0, 4.0, 0.9, 0.0, 0.0, 0.0, 0.0, 0.0, 0.0, 0.0, 0.0, 0.0, 0.0, 0.0,
         0.0, 0.0, 0.0, 0.0, 0.0, 0.0, 0.0, 0.0, 0.0, 0.0, 0.0, 0.0, 0.0, 0.0, 0.0, 0.0]
R_P29 = [4.5, 0.0, 0.0, 0.0, 0.6, 2.1, 0.3, 0.0, 0.0, 0.4, 1.3, 0.7, 0.0, 0.0, 0.0, 0.0,
         0.0, 0.0, 0.0, 0.2, 0.7, 1.0, 7.7, 1.8, 0.5, 0.0, 0.0, 0.0, 0.0, 0.0, 0.0, 0.0,
         0.0, 0.0, 0.0, 0.0, 0.0, 0.0, 0.0, 0.0, 0.0, 0.0, 0.0, 0.0, 0.0, 0.0, 0.0, 0.0,
         0.0, 0.0, 0.0, 0.0, 0.0, 0.0, 0.0, 0.0, 0.0, 0.0, 0.0, 0.0, 0.0, 0.0, 0.0, 0.0]
R_P30 = [8.8, 0.0, 0.0, 0.0, 1.5, 4.4, 0.7, 0.0, 0.0, 0.6, 2.0, 1.2, 0.0, 0.0, 0.0, 0.0,
         0.0, 0.0, 0.0, 0.3, 0.8, 1.5, 0.9, 0.3, 0.0, 0.0, 0.0, 0.0, 0.0, 0.0, 0.0, 0.0,
         0.0, 0.0, 0.0, 0.0, 0.0, 0.0, 0.0, 0.0, 0.0, 0.0, 0.0, 0.0, 0.0, 0.0, 0.0, 0.0,
         0.0, 0.0, 0.0, 0.0, 0.0, 0.0, 0.0, 0.0, 0.0, 0.0, 0.0, 0.0, 0.0, 0.0, 0.0, 0.0]

MEMBER_NAMES = ["P%d" % k for k in range(1, 31)]
MEMBER_T = [T_P1, T_P2, T_P3, T_P4, T_P5, T_P6, T_P7, T_P8, T_P9, T_P10,
            T_P11, T_P12, T_P13, T_P14, T_P15, T_P16, T_P17, T_P18, T_P19, T_P20,
            T_P21, T_P22, T_P23, T_P24, T_P25, T_P26, T_P27, T_P28, T_P29, T_P30]
MEMBER_R = [R_P1, R_P2, R_P3, R_P4, R_P5, R_P6, R_P7, R_P8, R_P9, R_P10,
            R_P11, R_P12, R_P13, R_P14, R_P15, R_P16, R_P17, R_P18, R_P19, R_P20,
            R_P21, R_P22, R_P23, R_P24, R_P25, R_P26, R_P27, R_P28, R_P29, R_P30]

PALETTE20 = ["#0030c8", "#0050c0", "#0074b8", "#0098c0", "#00a8b0", "#00a888", "#00a868", "#00a848",
             "#00b828", "#00c000", "#c0c000", "#c8b000", "#c89800", "#c08800", "#c07400", "#b86400",
             "#b05000", "#b03c10", "#982020", "#882020"]
MEMBER_COLORS = PALETTE20 + PALETTE20[:10]

CONTROL, ENSMEAN, BLANK, CLIM, OPER = "Control", "Ens. mean", " ", "1991-2020 mean", "Oper"
LEGEND_DOMAIN = MEMBER_NAMES + [CONTROL, ENSMEAN, BLANK, CLIM, OPER]
LEGEND_COLORS = MEMBER_COLORS + ["#0000ff", "#ffffff", "#000000", "#f04040", "#00dd00"]

# ---------------- tables ----------------
for s in MEMBER_T + MEMBER_R + [CONTROL_T, ENSMEAN_T, OPER_T, CLIM_T, CONTROL_R, ENSMEAN_R, OPER_R]:
    assert len(s) == len(HOURS), len(s)

rows = []
for name, tl, rl in zip(MEMBER_NAMES, MEMBER_T, MEMBER_R):
    for h, tv, rv in zip(HOURS, tl, rl):
        rows.append({"series": name, "h": h, "temp": tv, "precip": rv})
members = pd.DataFrame(rows)

rows = []
for name, tl, rl in [(CONTROL, CONTROL_T, CONTROL_R), (ENSMEAN, ENSMEAN_T, ENSMEAN_R),
                     (OPER, OPER_T, OPER_R), (CLIM, CLIM_T, [None] * len(HOURS))]:
    for h, tv, rv in zip(HOURS, tl, rl):
        rows.append({"series": name, "h": h, "temp": tv, "precip": rv})
thick = pd.DataFrame(rows)

W, H = 647, 529

x_labels_js = "[" + ",".join("'%s'" % s for s in X_TICK_LABELS) + "]"
x_enc = alt.X("h:Q", scale=alt.Scale(domain=[0, 397], nice=False, zero=False),
              axis=alt.Axis(values=list(range(0, 397, 24)),
                            labelExpr="datum.value % 48 == 0 ? " + x_labels_js + "[datum.value / 48] : ''",
                            title=X_TITLE, grid=True, labelFlush=False, labelOverlap=False,
                            labelPadding=10, titlePadding=6))
yT = alt.Y("temp:Q", scale=alt.Scale(domain=[-20, 25], nice=False, zero=False),
           axis=alt.Axis(values=list(range(-20, 26, 5)), title=Y_TITLE, grid=True,
                         labelPadding=9, titlePadding=-5))
yR = alt.Y("precip:Q", scale=alt.Scale(domain=[0, 40], nice=False, zero=False),
           axis=alt.Axis(orient="right", values=[0, 10, 20, 30, 40], title=Y2_TITLE, grid=False,
                         labelPadding=9, titlePadding=12, titleAngle=270))
color_enc = alt.Color("series:N",
                      scale=alt.Scale(domain=LEGEND_DOMAIN, range=LEGEND_COLORS),
                      legend=alt.Legend(title=None, orient="none", legendX=-162, legendY=3,
                                        direction="horizontal", columns=2, symbolLimit=0,
                                        symbolType="stroke", symbolSize=121,
                                        symbolStrokeWidth=2, labelColor="white", labelFontSize=10,
                                        labelFont="DejaVu Sans", rowPadding=3, columnPadding=1,
                                        labelOffset=1, labelLimit=200, padding=0,
                                        labelExpr="datum.label == '1991-2020 mean' ? ['1991-2020', 'mean'] : datum.label"))


def thick_line(name, field, y_enc, width):
    return alt.Chart(thick).transform_filter(alt.datum.series == name).mark_line(
        strokeWidth=width, clip=True).encode(x=x_enc, y=y_enc, color=color_enc)


temp_layer = alt.layer(
    alt.Chart(members).mark_line(strokeWidth=1, clip=True).encode(
        x=x_enc, y=yT, color=color_enc, detail="series:N"),
    thick_line(CLIM, "temp", yT, 3.5),
    thick_line(ENSMEAN, "temp", yT, 3.5),
    thick_line(CONTROL, "temp", yT, 3.5),
    thick_line(OPER, "temp", yT, 3.5),
)

precip_ticks = alt.Chart(pd.DataFrame({"precip": list(range(0, 41))})).mark_rule(
    color="white", strokeWidth=1).encode(y=yR, x=alt.value(W - 5), x2=alt.value(W))

precip_layer = alt.layer(
    alt.Chart(members).mark_line(strokeWidth=1, clip=True).encode(
        x=x_enc, y=yR, color=color_enc, detail="series:N"),
    thick_line(ENSMEAN, "precip", yR, 3.5),
    thick_line(CONTROL, "precip", yR, 3.5),
    thick_line(OPER, "precip", yR, 3.5),
    precip_ticks,
)

foot_left = alt.Chart(pd.DataFrame({"t": [FOOT_LEFT]})).mark_text(
    align="left", baseline="middle", fontSize=16, font="DejaVu Sans", color="#e6e6e6").encode(
    text="t:N", x=alt.value(-43), y=alt.value(568))
foot_right = alt.Chart(pd.DataFrame({"t": [FOOT_RIGHT]})).mark_text(
    align="left", baseline="middle", fontSize=16, font="DejaVu Sans", color="#e6e6e6").encode(
    text="t:N", x=alt.value(488), y=alt.value(568))

chart = alt.layer(temp_layer, precip_layer, foot_left, foot_right).resolve_scale(
    y="independent"
).properties(
    width=W, height=H,
    background="black",
    autosize=alt.AutoSizeParams(type="none"),
    padding={"left": 155, "top": 22, "right": 40, "bottom": 61},
    title=alt.TitleParams(text=TITLE, anchor="start", frame="group", dx=-2, fontSize=16.4,
                          font="DejaVu Sans", fontWeight="bold", color="white", offset=1),
).configure_view(
    stroke="white", strokeWidth=1
).configure_axis(
    labelColor="white", titleColor="white", labelFont="DejaVu Sans", titleFont="DejaVu Sans",
    labelFontSize=10.5, titleFontSize=10.5, titleFontWeight="normal",
    domain=False, ticks=False, gridColor="#4a4a4a", gridDash=[3, 3], gridWidth=1
)

chart.save("out.html", embed_options={"renderer": "svg", "actions": False})
